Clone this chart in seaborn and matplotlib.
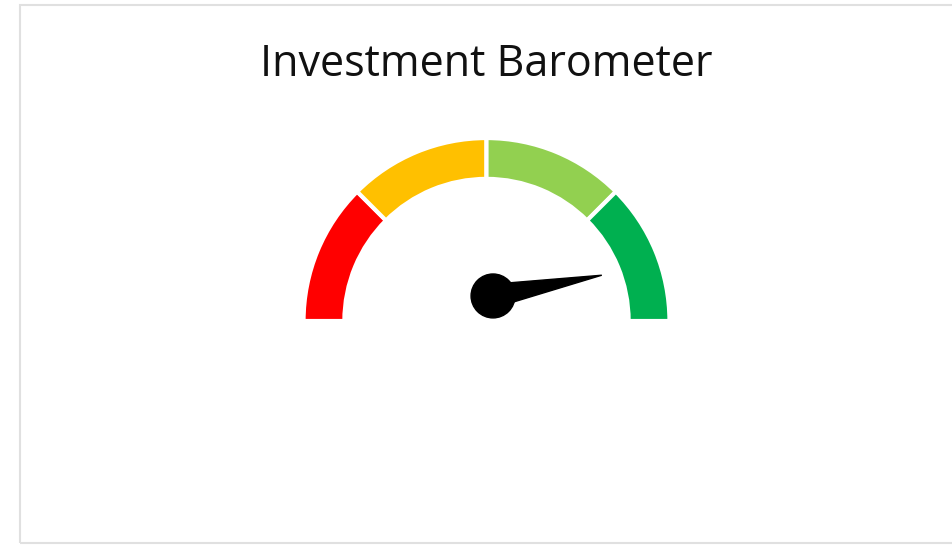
import numpy as np
import seaborn as sns
import matplotlib.pyplot as plt
from matplotlib.patches import Circle, Polygon, Rectangle

# gauge bands (share of the half dial) and the needle reading, 0..100
bands = ["Sell", "Hold", "Buy", "Strong buy"]
band_sizes = [25, 25, 25, 25]
band_colors = ["#FF0000", "#FFC000", "#92D050", "#00B050"]
needle_value = 94
title = "Investment Barometer"

sns.set_theme(style="white")
plt.rcParams["font.family"] = ["Open Sans", "DejaVu Sans"]

fig = plt.figure(figsize=(9.52, 5.45), dpi=100)
ax = fig.add_axes([0, 0, 1, 1])

# half donut: the bands plus an invisible lower half
sizes = band_sizes + [sum(band_sizes)]
colors = band_colors + ["none"]
wedges, _ = ax.pie(sizes, colors=colors, startangle=180, counterclock=False,
                   radius=1.008, center=(0, 0),
                   wedgeprops=dict(width=0.225, edgecolor="white", linewidth=3))
wedges[-1].set_edgecolor("none")

# needle
pivot = np.array([0.036, 0.138])
angle = np.deg2rad(180 - needle_value / 100 * 180)
direction = np.array([np.cos(angle), np.sin(angle)])
normal = np.array([-direction[1], direction[0]])
tip = pivot + 0.61 * direction
base_half = 0.065
ax.add_patch(Polygon([pivot + base_half * normal, tip, pivot - base_half * normal],
                     closed=True, color="black", zorder=5))
ax.add_patch(Circle(pivot, 0.121, color="black", zorder=6))

# keep one data unit = 181.5 px, gauge centre at (486.5, 320) px
scale = 181.5
ax.set_xlim(-486.5 / scale, (952 - 486.5) / scale)
ax.set_ylim(-(545 - 321) / scale, 321 / scale)
ax.set_aspect("auto")
ax.axis("off")

fig.text(486 / 952, 1 - 65 / 545, title, ha="center", va="center",
         fontsize=31, color="#111111")

# chart area border
fig.patches.append(Rectangle((20 / 952, 2 / 545), 1.0, 1 - 7 / 545,
                             transform=fig.transFigure, fill=False,
                             edgecolor="#e0e0e0", linewidth=1.5))

fig.savefig("out.png", dpi=100, facecolor="white")
